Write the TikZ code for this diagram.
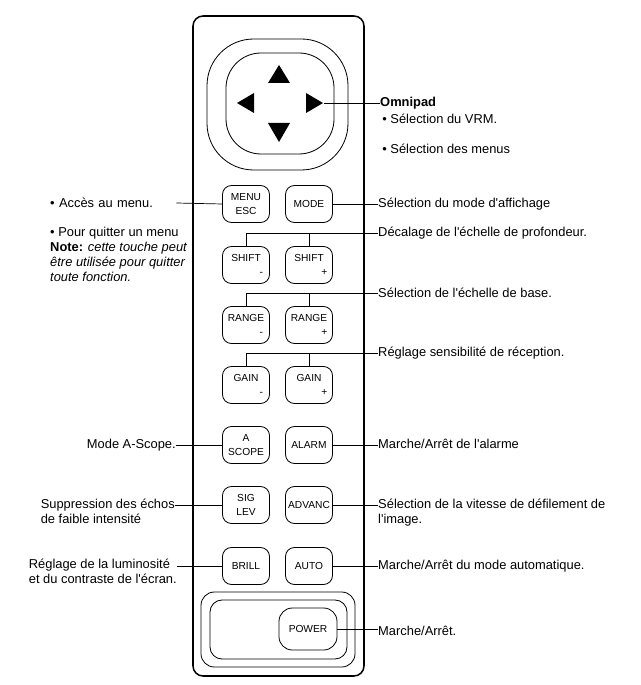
\documentclass[tikz,border=0pt]{standalone}
\usepackage{fontspec}
\setmainfont{Liberation Sans}[Ligatures=TeXOff]
\newcommand{\signkey}[2]{#1\\\hspace*{3.0em}#2}

\begin{document}
\begin{tikzpicture}[x=0.03cm, y=-0.03cm,
    key/.style={draw, line width=0.7pt, rounded corners=0.27cm, minimum width=1.41cm, minimum height=1.11cm, inner sep=0pt, align=center, font=\fontsize{8.7}{12.4}\selectfont},
    rlbl/.style={anchor=west, inner sep=0pt, align=left, font=\fontsize{11}{12.8}\selectfont},
    llbl/.style={anchor=east, inner sep=0pt, align=left, font=\fontsize{11}{12.8}\selectfont},
    wire/.style={line width=0.6pt}]
    \useasboundingbox (0,0) rectangle (640,685);
    % body and omnipad
    \draw[line width=1.3pt, rounded corners=0.3cm] (193,16) rectangle (364,676);
    \draw[line width=0.7pt, rounded corners=1.4cm] (207,39) rectangle (348,170);
    \draw[line width=0.7pt, rounded corners=1.05cm] (226,53) rectangle (334,154);
    \fill (279,65) -- (290,83) -- (268,83) -- cycle;
    \fill (237,103) -- (254,93) -- (254,113) -- cycle;
    \fill (323,103) -- (306,93) -- (306,113) -- cycle;
    \fill (279,142) -- (268,123) -- (290,123) -- cycle;
    \coordinate (rtip) at (324,103);
    % power frame
    \draw[line width=0.7pt, rounded corners=0.4cm] (201,592) rectangle (355,667);
    \draw[line width=0.7pt, rounded corners=0.36cm] (210,600) rectangle (347,659);

    % keys
    \node[key] (menu) at (246,204) {MENU\\ESC};
    \node[key] (mode) at (309,204) {MODE};
    \node[key] (ascope) at (246,445) {A\\SCOPE};
    \node[key] (alarm) at (309,445) {ALARM};
    \node[key] (siglev) at (246,505) {SIG\\LEV};
    \node[key] (advanc) at (309,505) {ADVANC};
    \node[key] (brill) at (246,566) {BRILL};
    \node[key] (auto) at (309,566) {AUTO};
    \node[key, minimum width=1.74cm, minimum height=1.26cm, rounded corners=0.4cm] (power) at (308,629) {POWER};

    \foreach \nm/\txt/\y/\lbl in {shift/SHIFT/265/{Décalage de l'échelle de profondeur.},
        range/RANGE/325/{Sélection de l'échelle de base.},
        gain/GAIN/385/{Réglage sensibilité de réception.}} {
        \node[key] (\nm-m) at (246,\y) {\signkey{\txt}{-}};
        \node[key] (\nm-p) at (309,\y) {\signkey{\txt}{+}};
        \node[rlbl] (\nm-lbl) at (378,\y-32) {\lbl};
        \draw[wire] (\nm-m.north) |- (\nm-lbl.west);
        \draw[wire] (\nm-p.north) -- (\nm-p.north |- \nm-lbl.west);
    }

    % labels on the right
    \node[rlbl, anchor=north west] (omni-lbl) at (380,97) {\textbf{Omnipad}\\[1.5pt]\,• Sélection du VRM.\\[13pt]\,• Sélection des menus};
    \node[rlbl] (mode-lbl) at (378,204) {Sélection du mode d'affichage};
    \node[rlbl] (alarm-lbl) at (378,444) {Marche/Arrêt de l'alarme};
    \node[rlbl, anchor=north west] (advanc-lbl) at (378,499) {Sélection de la vitesse de défilement de\\l'image.};
    \node[rlbl] (auto-lbl) at (378,566) {Marche/Arrêt du mode automatique.};
    \node[rlbl] (power-lbl) at (378,631) {Marche/Arrêt.};

    % labels on the left
    \node[llbl, anchor=west, text width=3.78cm] (menu-lbl) at (50,203) {• Accès au menu.};
    \node[llbl, anchor=north west] (quit-lbl) at (50,227) {• Pour quitter un menu\\\textbf{Note:} \textit{cette touche peut}\\\textit{être utilisée pour quitter}\\\textit{toute fonction.}};
    \node[llbl] (ascope-lbl) at (176,445) {Mode A-Scope.};
    \node[llbl, anchor=north east] (siglev-lbl) at (175,499) {Suppression des échos\\de faible intensité};
    \node[llbl, anchor=north east] (brill-lbl) at (177,559) {Réglage de la luminosité\\et du contraste de l'écran.};

    % connectors
    \draw[wire] (rtip) -- (rtip -| omni-lbl.west);
    \draw[wire] (mode.east) -- (mode-lbl.west);
    \draw[wire] (alarm.east) -- (alarm.east -| alarm-lbl.west);
    \draw[wire] (advanc.east) -- (advanc.east -| advanc-lbl.west);
    \draw[wire] (auto.east) -- (auto.east -| auto-lbl.west);
    \draw[wire] (power.east) -- (power.east -| power-lbl.west);
    \draw[wire] (menu.west) -- (menu-lbl.east);
    \draw[wire] (ascope.west) -- (ascope.west -| ascope-lbl.east);
    \draw[wire] (siglev.west) -- (siglev.west -| siglev-lbl.east);
    \draw[wire] (brill.west) -- (brill.west -| brill-lbl.east);
\end{tikzpicture}
\end{document}
